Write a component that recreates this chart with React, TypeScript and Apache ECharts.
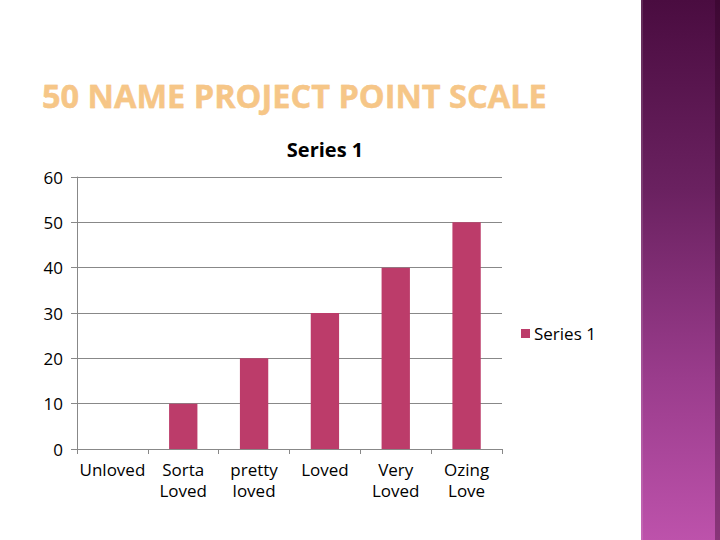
import React, { useEffect, useRef } from "react";
import * as echarts from "echarts";

const categories = ["Unloved", "Sorta\nLoved", "pretty\nloved", "Loved", "Very\nLoved", "Ozing\nLove"];
const seriesValues = [0, 10, 20, 30, 40, 50];
const seriesName = "Series 1";
const slideTitle = "50 NAME PROJECT POINT SCALE";

export default function App() {
  const ref = useRef<HTMLDivElement>(null);
  useEffect(() => {
    if (!ref.current) return;
    const chart = echarts.init(ref.current, null, { renderer: "svg" });
    const font = "Open Sans";
    chart.setOption({
      animation: false,
      backgroundColor: "#ffffff",
      textStyle: { fontFamily: font },
      title: {
        text: seriesName,
        left: 320,
        top: 134,
        textAlign: "center",
        textStyle: { fontFamily: font, fontSize: 20, fontWeight: "bold", color: "#000" },
      },
      legend: {
        data: [seriesName],
        left: 516,
        top: 320,
        icon: "rect",
        itemWidth: 9,
        itemHeight: 9,
        itemGap: 4,
        textStyle: { fontFamily: font, fontSize: 17, color: "#000", padding: [0, 0, 0, -1] },
      },
      grid: { left: 77, right: 218, top: 177, bottom: 91, containLabel: false },
      xAxis: {
        type: "category",
        data: categories,
        axisLine: { lineStyle: { color: "#888", width: 1 } },
        axisTick: { show: true, length: 5, lineStyle: { color: "#888" }, alignWithLabel: false },
        axisLabel: { color: "#000", fontSize: 17, lineHeight: 21, margin: 10, interval: 0, fontFamily: font },
      },
      yAxis: {
        type: "value",
        min: 0,
        max: 60,
        interval: 10,
        axisLine: { show: true, lineStyle: { color: "#888", width: 1 } },
        axisTick: { show: true, length: 6, lineStyle: { color: "#888" } },
        axisLabel: { color: "#000", fontSize: 17, margin: 14, fontFamily: font },
        splitLine: { lineStyle: { color: "#888", width: 1 } },
      },
      series: [
        {
          name: seriesName,
          type: "bar",
          data: seriesValues,
          barWidth: "40%",
          itemStyle: { color: "#bc3c6a" },
        },
      ],
      graphic: [
        {
          type: "rect",
          shape: { x: 641, y: 0, width: 79, height: 540 },
          style: {
            fill: new echarts.graphic.LinearGradient(0, 0, 0, 1, [
              { offset: 0, color: "#4a0c40" },
              { offset: 0.35, color: "#6a2160" },
              { offset: 0.7, color: "#9a3c8c" },
              { offset: 1, color: "#bd52ab" },
            ]),
          },
          z: 1,
        },
        {
          type: "rect",
          shape: { x: 641, y: 0, width: 2, height: 540 },
          style: { fill: "rgba(255,255,255,0.12)" },
          z: 2,
        },
        {
          type: "rect",
          shape: { x: 715, y: 0, width: 5, height: 540 },
          style: { fill: "rgba(40,0,30,0.35)" },
          z: 2,
        },
        {
          type: "text",
          x: 42,
          y: 79,
          style: {
            text: slideTitle,
            fontFamily: "Open Sans",
            fontSize: 32.5,
            fontWeight: "bold",
            fill: "#f6c687",
            stroke: "#f0b060",
            lineWidth: 0.4,
          },
          z: 3,
        },
      ],
    });
    return () => chart.dispose();
  }, []);
  return <div ref={ref} style={{ position: "fixed", left: 0, top: 0, width: 720, height: 540 }} />;
}
